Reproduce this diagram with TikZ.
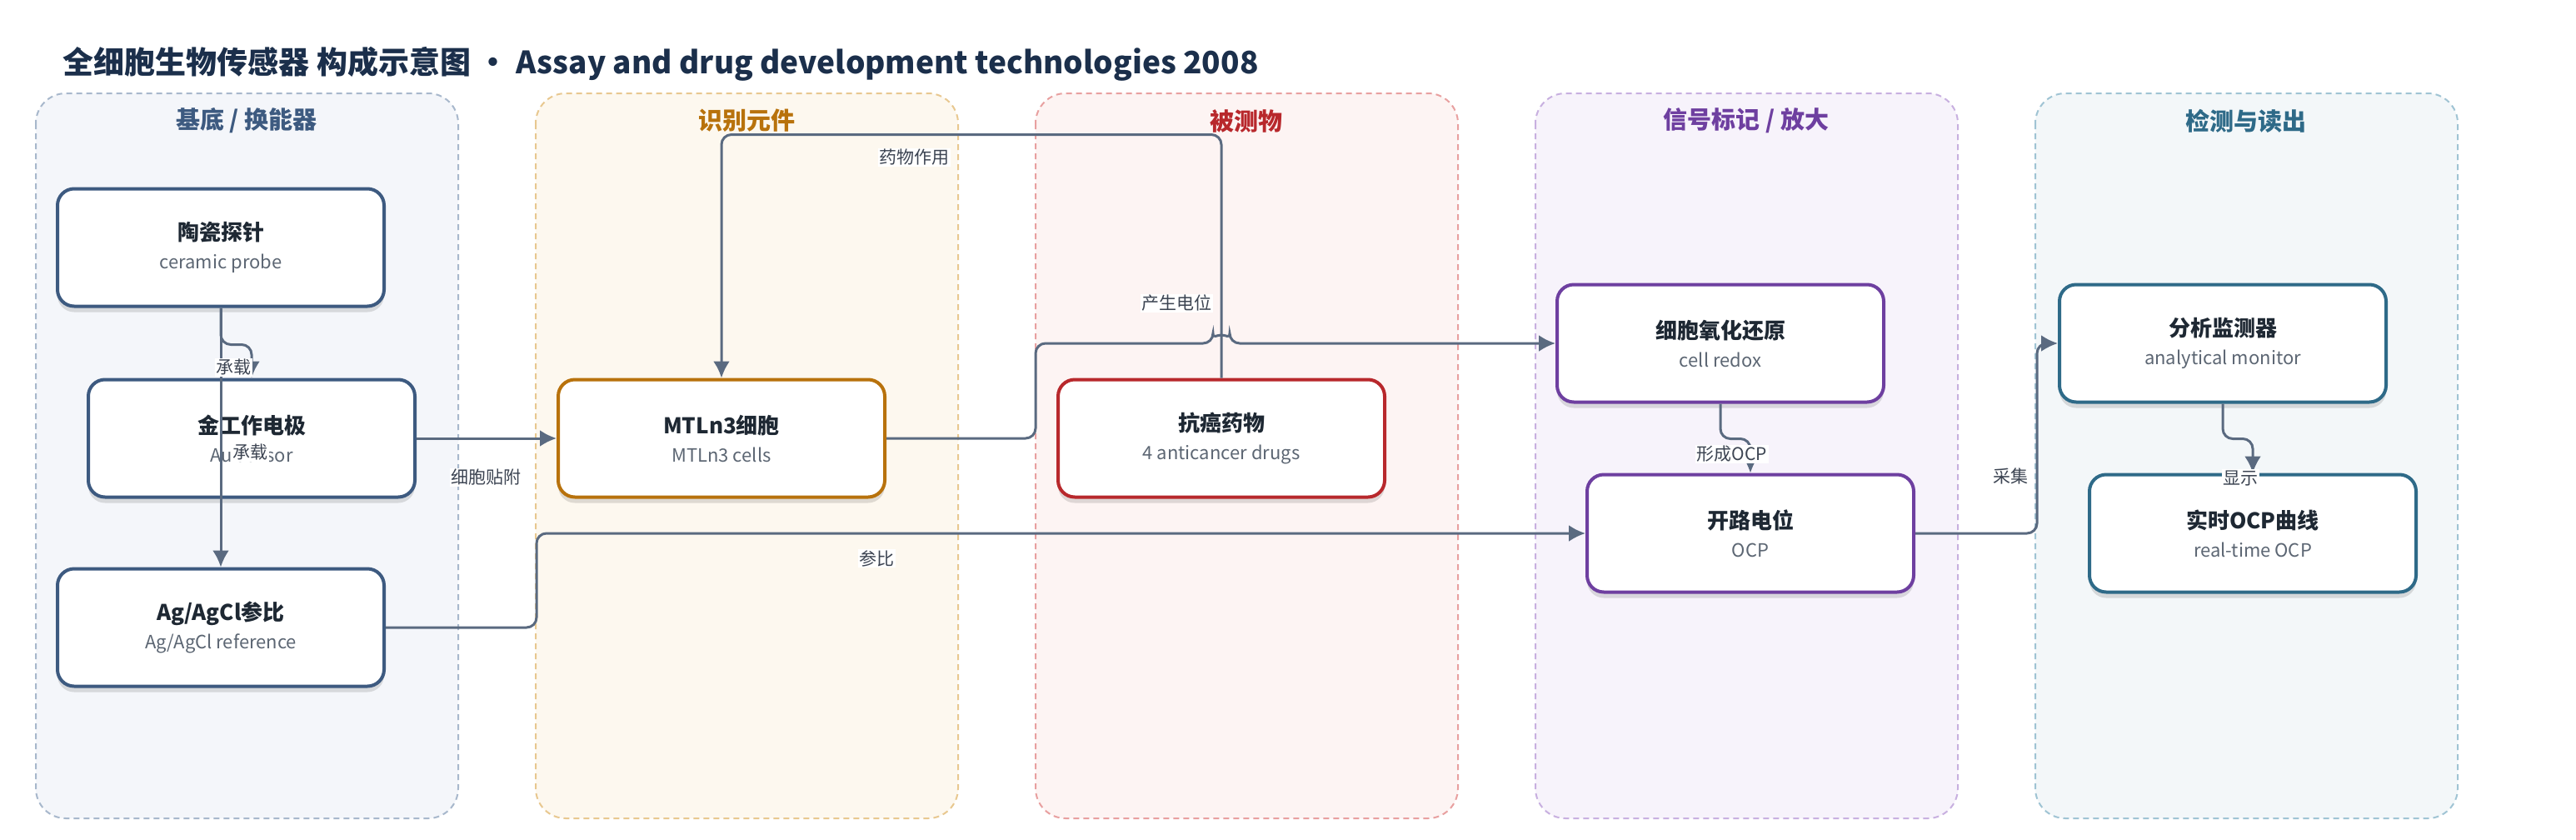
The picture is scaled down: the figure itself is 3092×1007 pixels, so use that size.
\documentclass[tikz,border=0pt]{standalone}
\usepackage{fontspec}
\setmainfont{Noto Sans CJK SC}
\usetikzlibrary{arrows.meta,positioning,calc,shadows}

\definecolor{titlec}{HTML}{1B2F4B}
\definecolor{ink}{HTML}{1E2833}
\definecolor{subc}{HTML}{5C6673}
\definecolor{linkc}{HTML}{5A6A80}
\definecolor{lblc}{HTML}{3C4452}
% lane colours: title / border / fill
\definecolor{baseT}{HTML}{3D5A80}\definecolor{baseB}{HTML}{A8B8CC}\definecolor{baseF}{HTML}{F4F6FA}
\definecolor{recT}{HTML}{B8720C}\definecolor{recB}{HTML}{E8C890}\definecolor{recF}{HTML}{FDF8EF}
\definecolor{anaT}{HTML}{B8282C}\definecolor{anaB}{HTML}{E8A0A0}\definecolor{anaF}{HTML}{FDF4F3}
\definecolor{sigT}{HTML}{6E3FA0}\definecolor{sigB}{HTML}{C8B0E0}\definecolor{sigF}{HTML}{F7F3FB}
\definecolor{detT}{HTML}{2E6A88}\definecolor{detB}{HTML}{A0C4D4}\definecolor{detF}{HTML}{F3F7F9}

\newcommand{\boxtxt}[2]{{\fontsize{26}{34}\selectfont\bfseries #1}\\{\color{subc}#2}}

\tikzset{
  lane/.style 2 args={draw=#1, fill=#2, dashed, dash pattern=on 7pt off 5pt,
    line width=2pt, rounded corners=36pt},
  lanettl/.style={font=\fontsize{29}{34}\selectfont\bfseries},
  box/.style={draw=#1, fill=white, line width=4pt, rounded corners=20pt,
    minimum width=392pt, minimum height=141pt, align=center, text=ink,
    font=\fontsize{22}{34}\selectfont,
    drop shadow={shadow xshift=0pt, shadow yshift=-7pt, opacity=0.12, fill=black}},
  link/.style={draw=linkc, line width=3pt, rounded corners=12pt,
    -{Latex[length=20pt,width=20pt]}},
  lbl/.style={font=\fontsize{21}{25}\selectfont, text=lblc, fill=white, inner sep=1.5pt}
}

\begin{document}
\begin{tikzpicture}[x=1pt, y=-1pt]
  \useasboundingbox (0,0) rectangle (3092,1007);
  \fill[white] (0,0) rectangle (3092,1007);

  \node[anchor=west, font=\fontsize{37}{44}\selectfont\bfseries, text=titlec] (title) at (72,77)
    {全细胞生物传感器 构成示意图\hspace{9pt}•\hspace{9pt}Assay and drug development technologies 2008};

  % lanes
  \draw[lane={baseB}{baseF}] (43,112) rectangle (550,982);
  \draw[lane={recB}{recF}] (643,112) rectangle (1150,982);
  \draw[lane={anaB}{anaF}] (1243,112) rectangle (1750,982);
  \draw[lane={sigB}{sigF}] (1843,112) rectangle (2350,982);
  \draw[lane={detB}{detF}] (2443,112) rectangle (2950,982);

  \node[lanettl, text=baseT] (t1) at (296,145) {基底 / 换能器};
  \node[lanettl, text=recT] (t2) at (896,145) {识别元件};
  \node[lanettl, text=anaT] (t3) at (1496,145) {被测物};
  \node[lanettl, text=sigT] (t4) at (2096,145) {信号标记 / 放大};
  \node[lanettl, text=detT] (t5) at (2696,145) {检测与读出};

  % nodes
  \node[box=baseT] (probe) at (265,297) {\boxtxt{陶瓷探针}{ceramic probe}};
  \node[box=baseT] (au) at (302,526) {\boxtxt{金工作电极}{Au sensor}};
  \node[box=baseT] (ref) at (265,753) {\boxtxt{Ag/AgCl参比}{Ag/AgCl reference}};
  \node[box=recT] (cells) at (866,526) {\boxtxt{MTLn3细胞}{MTLn3 cells}};
  \node[box=anaT] (drug) at (1466,526) {\boxtxt{抗癌药物}{4 anticancer drugs}};
  \node[box=sigT] (redox) at (2065,412) {\boxtxt{细胞氧化还原}{cell redox}};
  \node[box=sigT] (ocp) at (2101,640) {\boxtxt{开路电位}{OCP}};
  \node[box=detT] (monitor) at (2668,412) {\boxtxt{分析监测器}{analytical monitor}};
  \node[box=detT] (curve) at (2704,640) {\boxtxt{实时OCP曲线}{real-time OCP}};

  % connectors
  \draw[link] (probe.south) -- ++(0,44) -| (au.north);
  \draw[link] (probe.south) -- (ref.north);
  \draw[link] (au.east) -- (cells.west);
  \draw[link] (drug.north) -- ++(0,-292) -| (cells.north);
  \draw[link] (cells.east) -- ++(179,0) |- ($(drug.north |- redox.west)+(-10,0)$)
    arc[start angle=180, end angle=0, radius=10pt] -- (redox.west);
  \draw[link] (ref.east) -- ++(181,0) |- (ocp.west);
  \draw[link] (redox.south) -- ++(0,42) -| (ocp.north);
  \draw[link] (ocp.east) -- ++(146,0) |- (monitor.west);
  \draw[link] (monitor.south) -- ++(0,42) -| (curve.north);

  % connector labels
  \node[lbl] (l1) at (280,441) {承载};
  \node[lbl] (l2) at (300,543) {承载};
  \node[lbl] (l3) at (583,573) {细胞贴附};
  \node[lbl] (l4) at (1097,189) {药物作用};
  \node[lbl] (l5) at (1412,364) {产生电位};
  \node[lbl] (l6) at (1052,670) {参比};
  \node[lbl] (l7) at (2079,545) {形成OCP};
  \node[lbl] (l8) at (2413,571) {采集};
  \node[lbl] (l9) at (2689,574) {显示};
\end{tikzpicture}
\end{document}
